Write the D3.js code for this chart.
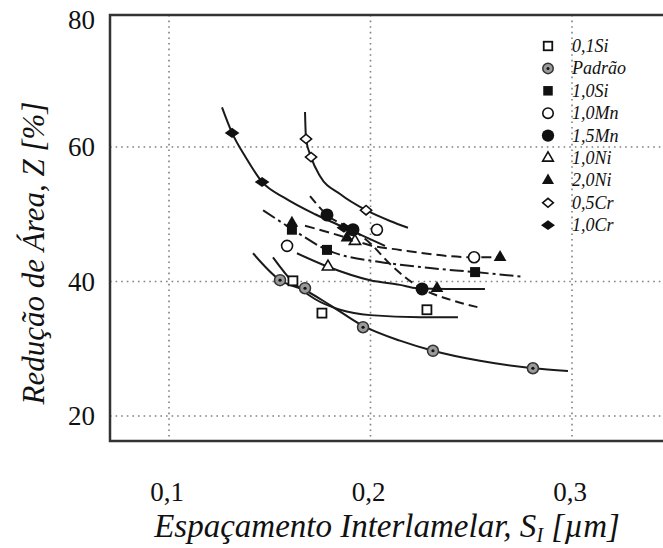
<!DOCTYPE html>
<html>
<head>
<meta charset="utf-8">
<script src="https://cdn.jsdelivr.net/npm/d3@7"></script>
<style>
  html, body { margin: 0; padding: 0; background: #fff; }
  svg { display: block; }
</style>
</head>
<body>
<svg id="chart" width="663" height="548"></svg>
<script>
// Axis ticks
const xTicks = [0.1, 0.2, 0.3];
const yTicks = [20, 40, 60, 80];
const xTickLabels = ["0,1", "0,2", "0,3"];
const yTickLabels = ["20", "40", "60", "80"];

// Legend entries (marker type per alloy)
const legendLabels = ["0,1Si", "Padrão", "1,0Si", "1,0Mn", "1,5Mn", "1,0Ni", "2,0Ni", "0,5Cr", "1,0Cr"];
const legendMarkers = ["sqOpen", "padrao", "sqFill", "circOpen", "circFill", "triOpen", "triFill", "diaOpen", "diaFill"];

// Measured points [S_I (µm), Z (%)]
const pts01Si  = [[0.1615, 40.1], [0.1759, 35.3], [0.228, 35.8]];
const ptsPadrao = [[0.1551, 40.2], [0.1675, 39.0], [0.1963, 33.2], [0.231, 29.7], [0.2806, 27.1]];
const pts10Si  = [[0.161, 47.7], [0.1784, 44.7], [0.2519, 41.4]];
const pts10Mn  = [[0.1586, 45.3], [0.2032, 47.7], [0.2514, 43.6]];
const pts15Mn  = [[0.1784, 49.9], [0.1913, 47.7], [0.2256, 38.9]];
const pts10Ni  = [[0.1789, 42.2], [0.1923, 46.0]];
const pts20Ni  = [[0.161, 48.7], [0.1883, 46.5], [0.233, 39.0], [0.2643, 43.6]];
const pts05Cr  = [[0.168, 61.2], [0.1705, 58.5], [0.1978, 50.6]];
const pts10Cr  = [[0.1313, 62.1], [0.1462, 54.8], [0.1868, 48.0]];

// Fitted trend curves [S_I (µm), Z (%)]
const fit10Cr = [[0.1263, 65.9], [0.1313, 62.1], [0.1382, 58.4], [0.1462, 54.8], [0.1576, 52.4], [0.1725, 50.0], [0.1873, 48.0], [0.2072, 45.3]];
const fit05Cr = [[0.1675, 65.2], [0.168, 61.2], [0.1705, 58.5], [0.1749, 55.7], [0.1849, 53.0], [0.1978, 50.6], [0.2097, 49.0], [0.2186, 48.0]];
const fit15Mn = [[0.17, 52.7], [0.1784, 49.9], [0.1913, 47.7], [0.1998, 45.7], [0.2097, 42.6], [0.2256, 38.9], [0.2395, 37.3], [0.2543, 36.1]];
const fit10Si = [[0.1467, 50.6], [0.161, 47.8], [0.1784, 44.7], [0.2047, 42.9], [0.2146, 42.5], [0.2295, 42.0], [0.2519, 41.4], [0.2757, 40.7]];
const fit20Ni = [[0.1675, 48.3], [0.1883, 46.5], [0.1998, 45.4], [0.2146, 44.7], [0.2514, 43.6], [0.2643, 43.6]];
const fit10Ni = [[0.1635, 44.2], [0.1789, 42.2], [0.1998, 40.2], [0.2146, 39.5], [0.2231, 39.0], [0.238, 38.9], [0.2568, 38.9]];
const fitPadrao = [[0.1417, 44.2], [0.1551, 40.2], [0.1675, 38.7], [0.1799, 36.5], [0.1963, 33.4], [0.2146, 31.2], [0.231, 29.7], [0.2543, 28.2], [0.2806, 27.1], [0.298, 26.7]];
const fit01Si = [[0.1516, 43.6], [0.1615, 39.9], [0.1724, 37.4], [0.1849, 35.8], [0.1998, 35.0], [0.2246, 34.7], [0.2434, 34.7]];

const svg = d3.select("#chart");
const frame = { left: 110, top: 15, bottom: 441, right: 680 };

const x = d3.scaleLinear().domain([0.1, 0.3]).range([169, 572]);
const y = d3.scaleLinear().domain([20, 60]).range([416, 147]);

const serif = '"Liberation Serif", "Times New Roman", Times, serif';
const ink = "#111";

// Clip for the plotting area
svg.append("defs").append("clipPath").attr("id", "plotClip")
  .append("rect")
  .attr("x", frame.left).attr("y", frame.top)
  .attr("width", frame.right - frame.left).attr("height", frame.bottom - frame.top);

// Dotted grid
const grid = svg.append("g").attr("clip-path", "url(#plotClip)");
grid.selectAll("line.gx").data(xTicks).join("line")
  .attr("x1", d => x(d)).attr("x2", d => x(d))
  .attr("y1", frame.top).attr("y2", frame.bottom)
  .attr("stroke", "#808080").attr("stroke-width", 1.6)
  .attr("stroke-dasharray", "1.6,4");
grid.selectAll("line.gy").data(yTicks.filter(v => v < 80)).join("line")
  .attr("x1", frame.left).attr("x2", frame.right)
  .attr("y1", d => y(d)).attr("y2", d => y(d))
  .attr("stroke", "#808080").attr("stroke-width", 1.6)
  .attr("stroke-dasharray", "1.6,4");

// Frame
svg.append("rect")
  .attr("x", frame.left).attr("y", frame.top)
  .attr("width", frame.right - frame.left).attr("height", frame.bottom - frame.top)
  .attr("fill", "none").attr("stroke", "#333").attr("stroke-width", 2.5);

// Tick labels
svg.append("g").selectAll("text").data(yTicks).join("text")
  .attr("x", 95).attr("y", d => Math.max(y(d), 20))
  .attr("dy", "0.35em").attr("text-anchor", "end")
  .style("font-family", serif).style("font-size", "27px").attr("fill", ink)
  .text((d, i) => yTickLabels[i]);
svg.append("g").selectAll("text").data(xTicks).join("text")
  .attr("x", d => x(d) - 2).attr("y", 492)
  .attr("dy", "0.35em").attr("text-anchor", "middle")
  .style("font-family", serif).style("font-size", "27px").attr("fill", ink)
  .text((d, i) => xTickLabels[i]);

// Axis titles
const xt = svg.append("text")
  .attr("x", 387).attr("y", 537).attr("text-anchor", "middle")
  .style("font-family", serif).style("font-style", "italic").style("font-size", "33px").attr("fill", ink);
xt.append("tspan").text("Espaçamento Interlamelar, S");
xt.append("tspan").style("font-size", "20px").attr("dy", 5).text("I");
xt.append("tspan").attr("dy", -5).text(" [µm]");

svg.append("text")
  .attr("transform", "translate(44,253) rotate(-90)")
  .attr("text-anchor", "middle")
  .style("font-family", serif).style("font-style", "italic").style("font-size", "31px").attr("fill", ink)
  .text("Redução de Área, Z [%]");

// Trend curves
const line = d3.line().x(d => x(d[0])).y(d => y(d[1])).curve(d3.curveMonotoneX);
const curves = [
  { data: fit10Cr, dash: null },
  { data: fit05Cr, dash: null },
  { data: fit15Mn, dash: "9,5" },
  { data: fit10Si, dash: "14,4,3,4" },
  { data: fit20Ni, dash: "10,5" },
  { data: fit10Ni, dash: null },
  { data: fitPadrao, dash: null },
  { data: fit01Si, dash: null }
];
const cg = svg.append("g").attr("clip-path", "url(#plotClip)");
curves.forEach(c => {
  cg.append("path").attr("d", line(c.data))
    .attr("fill", "none").attr("stroke", "#1a1a1a").attr("stroke-width", 2)
    .attr("stroke-dasharray", c.dash);
});

// Marker drawing
function drawMarker(g, type, cx, cy, s) {
  const k = s || 1;
  const t = `translate(${cx},${cy})`;
  switch (type) {
    case "sqOpen":
      g.append("rect").attr("x", cx - 4.5 * k).attr("y", cy - 4.5 * k)
        .attr("width", 9 * k).attr("height", 9 * k)
        .attr("fill", "#fff").attr("stroke", ink).attr("stroke-width", 1.8);
      break;
    case "sqFill":
      g.append("rect").attr("x", cx - 5 * k).attr("y", cy - 5 * k)
        .attr("width", 10 * k).attr("height", 10 * k).attr("fill", ink);
      break;
    case "padrao":
      g.append("circle").attr("cx", cx).attr("cy", cy).attr("r", 5.5 * k)
        .attr("fill", "#9a9a9a").attr("stroke", "#333").attr("stroke-width", 1.5);
      g.append("circle").attr("cx", cx).attr("cy", cy).attr("r", 1.6 * k).attr("fill", ink);
      break;
    case "circOpen":
      g.append("circle").attr("cx", cx).attr("cy", cy).attr("r", 5.5 * k)
        .attr("fill", "#fff").attr("stroke", ink).attr("stroke-width", 1.6);
      break;
    case "circFill":
      g.append("circle").attr("cx", cx).attr("cy", cy).attr("r", 6.5 * k).attr("fill", ink);
      break;
    case "triOpen":
      g.append("path").attr("transform", t)
        .attr("d", d3.symbol(d3.symbolTriangle, 55 * k * k)())
        .attr("fill", "#fff").attr("stroke", ink).attr("stroke-width", 1.6);
      break;
    case "triFill":
      g.append("path").attr("transform", t)
        .attr("d", d3.symbol(d3.symbolTriangle, 70 * k * k)())
        .attr("fill", ink);
      break;
    case "diaOpen":
      g.append("path").attr("transform", t + " scale(1.15,0.95) rotate(45)")
        .attr("d", d3.symbol(d3.symbolSquare, 48 * k * k)())
        .attr("fill", "#fff").attr("stroke", ink).attr("stroke-width", 1.5);
      break;
    case "diaFill":
      g.append("path").attr("transform", t + " scale(1.3,0.9) rotate(45)")
        .attr("d", d3.symbol(d3.symbolSquare, 64 * k * k)())
        .attr("fill", ink);
      break;
  }
}

const mg = svg.append("g");
const pointSets = [
  [pts01Si, "sqOpen"], [ptsPadrao, "padrao"], [pts10Si, "sqFill"], [pts10Mn, "circOpen"],
  [pts15Mn, "circFill"], [pts10Ni, "triOpen"], [pts20Ni, "triFill"], [pts05Cr, "diaOpen"], [pts10Cr, "diaFill"]
];
pointSets.forEach(([pts, type]) => {
  pts.forEach(p => drawMarker(mg, type, x(p[0]), y(p[1])));
});

// Legend
const lg = svg.append("g");
legendLabels.forEach((lab, i) => {
  const ry = 46 + i * 22.4;
  drawMarker(lg, legendMarkers[i], 548, ry, 0.95);
  lg.append("text").attr("x", 572).attr("y", ry).attr("dy", "0.33em")
    .style("font-family", serif).style("font-style", "italic").style("font-size", "18px").attr("fill", ink)
    .text(lab);
});
</script>
</body>
</html>
